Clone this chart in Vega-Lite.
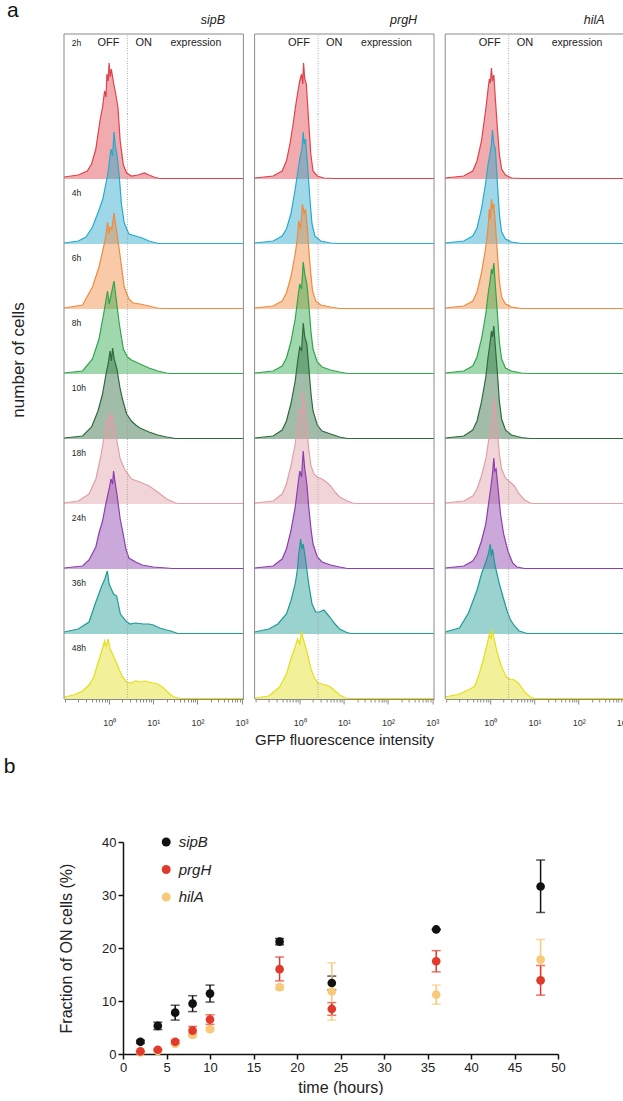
{
"$schema": "https://vega.github.io/schema/vega-lite/v6.json",
"padding": {"left": 3, "top": 0, "right": 0, "bottom": 0},
"config": {"font": "Liberation Sans", "view": {"stroke": null}, "axis": {"grid": false}, "legend": {"symbolOpacity": 1}},
"resolve": {"scale": {"color": "independent"}, "legend": {"color": "independent"}},
"datasets": {
"frac": [
{"gene":"sipB","t":2,"v":2.3,"lo":2.0,"hi":2.6},{"gene":"sipB","t":4,"v":5.3,"lo":4.6,"hi":6.0},{"gene":"sipB","t":6,"v":7.8,"lo":6.4,"hi":9.2},{"gene":"sipB","t":8,"v":9.5,"lo":8.0,"hi":11.0},{"gene":"sipB","t":10,"v":11.4,"lo":9.8,"hi":13.0},{"gene":"sipB","t":18,"v":21.2,"lo":20.6,"hi":21.8},{"gene":"sipB","t":24,"v":13.4,"lo":12.1,"hi":14.7},{"gene":"sipB","t":36,"v":23.5,"lo":23.5,"hi":23.5},{"gene":"sipB","t":48,"v":31.6,"lo":26.7,"hi":36.6},
{"gene":"hilA","t":2,"v":0.3,"lo":0.3,"hi":0.3},{"gene":"hilA","t":4,"v":0.6,"lo":0.6,"hi":0.6},{"gene":"hilA","t":6,"v":1.9,"lo":1.7,"hi":2.1},{"gene":"hilA","t":8,"v":3.6,"lo":3.2,"hi":4.0},{"gene":"hilA","t":10,"v":4.7,"lo":4.4,"hi":5.0},{"gene":"hilA","t":18,"v":12.6,"lo":12.1,"hi":13.1},{"gene":"hilA","t":24,"v":11.8,"lo":6.4,"hi":17.2},{"gene":"hilA","t":36,"v":11.2,"lo":9.4,"hi":13.0},{"gene":"hilA","t":48,"v":17.8,"lo":14.0,"hi":21.6},
{"gene":"prgH","t":2,"v":0.5,"lo":0.4,"hi":0.6},{"gene":"prgH","t":4,"v":0.8,"lo":0.7,"hi":0.9},{"gene":"prgH","t":6,"v":2.3,"lo":2.0,"hi":2.6},{"gene":"prgH","t":8,"v":4.4,"lo":3.6,"hi":5.2},{"gene":"prgH","t":10,"v":6.5,"lo":5.6,"hi":7.4},{"gene":"prgH","t":18,"v":16.0,"lo":13.8,"hi":18.3},{"gene":"prgH","t":24,"v":8.5,"lo":7.3,"hi":9.7},{"gene":"prgH","t":36,"v":17.5,"lo":15.5,"hi":19.5},{"gene":"prgH","t":48,"v":13.9,"lo":11.1,"hi":16.7}
],
"hist": [
{"g":"sipB","t":"2h","x":0.095,"c":2},{"g":"sipB","t":"2h","x":0.2,"c":4},{"g":"sipB","t":"2h","x":0.32,"c":8},{"g":"sipB","t":"2h","x":0.4,"c":15},{"g":"sipB","t":"2h","x":0.5,"c":30},{"g":"sipB","t":"2h","x":0.56,"c":45},{"g":"sipB","t":"2h","x":0.63,"c":60},{"g":"sipB","t":"2h","x":0.71,"c":72},{"g":"sipB","t":"2h","x":0.79,"c":88},{"g":"sipB","t":"2h","x":0.85,"c":82},{"g":"sipB","t":"2h","x":0.89,"c":105},{"g":"sipB","t":"2h","x":0.95,"c":98},{"g":"sipB","t":"2h","x":1,"c":116},{"g":"sipB","t":"2h","x":1.06,"c":102},{"g":"sipB","t":"2h","x":1.12,"c":110},{"g":"sipB","t":"2h","x":1.26,"c":96},{"g":"sipB","t":"2h","x":1.41,"c":85},{"g":"sipB","t":"2h","x":1.58,"c":72},{"g":"sipB","t":"2h","x":1.78,"c":38},{"g":"sipB","t":"2h","x":2.1,"c":14},{"g":"sipB","t":"2h","x":2.5,"c":6},{"g":"sipB","t":"2h","x":3.2,"c":3},{"g":"sipB","t":"2h","x":4.5,"c":4},{"g":"sipB","t":"2h","x":6.3,"c":6},{"g":"sipB","t":"2h","x":8,"c":4},{"g":"sipB","t":"2h","x":11,"c":1.5},{"g":"sipB","t":"2h","x":14,"c":0.5},{"g":"sipB","t":"2h","x":1100,"c":0.5},
{"g":"sipB","t":"4h","x":0.095,"c":1},{"g":"sipB","t":"4h","x":0.2,"c":3},{"g":"sipB","t":"4h","x":0.3,"c":7},{"g":"sipB","t":"4h","x":0.42,"c":17},{"g":"sipB","t":"4h","x":0.59,"c":34},{"g":"sipB","t":"4h","x":0.72,"c":45},{"g":"sipB","t":"4h","x":0.85,"c":61},{"g":"sipB","t":"4h","x":0.95,"c":72},{"g":"sipB","t":"4h","x":1,"c":80},{"g":"sipB","t":"4h","x":1.1,"c":95},{"g":"sipB","t":"4h","x":1.2,"c":88},{"g":"sipB","t":"4h","x":1.29,"c":112},{"g":"sipB","t":"4h","x":1.38,"c":98},{"g":"sipB","t":"4h","x":1.5,"c":90},{"g":"sipB","t":"4h","x":1.7,"c":67},{"g":"sipB","t":"4h","x":1.9,"c":40},{"g":"sipB","t":"4h","x":2.2,"c":21},{"g":"sipB","t":"4h","x":2.8,"c":10},{"g":"sipB","t":"4h","x":4,"c":8},{"g":"sipB","t":"4h","x":5.6,"c":6},{"g":"sipB","t":"4h","x":8,"c":3},{"g":"sipB","t":"4h","x":13,"c":0.5},{"g":"sipB","t":"4h","x":1100,"c":0.5},
{"g":"sipB","t":"6h","x":0.095,"c":1},{"g":"sipB","t":"6h","x":0.25,"c":4},{"g":"sipB","t":"6h","x":0.42,"c":22},{"g":"sipB","t":"6h","x":0.59,"c":42},{"g":"sipB","t":"6h","x":0.75,"c":62},{"g":"sipB","t":"6h","x":0.85,"c":75},{"g":"sipB","t":"6h","x":0.92,"c":87},{"g":"sipB","t":"6h","x":0.98,"c":75},{"g":"sipB","t":"6h","x":1.05,"c":82},{"g":"sipB","t":"6h","x":1.15,"c":80},{"g":"sipB","t":"6h","x":1.29,"c":96},{"g":"sipB","t":"6h","x":1.4,"c":85},{"g":"sipB","t":"6h","x":1.7,"c":59},{"g":"sipB","t":"6h","x":2.2,"c":22},{"g":"sipB","t":"6h","x":2.8,"c":10},{"g":"sipB","t":"6h","x":3.5,"c":6},{"g":"sipB","t":"6h","x":5,"c":5},{"g":"sipB","t":"6h","x":8,"c":3},{"g":"sipB","t":"6h","x":12,"c":1},{"g":"sipB","t":"6h","x":16,"c":0.5},{"g":"sipB","t":"6h","x":1100,"c":0.5},
{"g":"sipB","t":"8h","x":0.095,"c":1},{"g":"sipB","t":"8h","x":0.25,"c":3},{"g":"sipB","t":"8h","x":0.42,"c":15},{"g":"sipB","t":"8h","x":0.59,"c":35},{"g":"sipB","t":"8h","x":0.75,"c":60},{"g":"sipB","t":"8h","x":0.92,"c":83},{"g":"sipB","t":"8h","x":1,"c":70},{"g":"sipB","t":"8h","x":1.12,"c":80},{"g":"sipB","t":"8h","x":1.29,"c":93},{"g":"sipB","t":"8h","x":1.4,"c":80},{"g":"sipB","t":"8h","x":1.7,"c":50},{"g":"sipB","t":"8h","x":2.1,"c":25},{"g":"sipB","t":"8h","x":2.6,"c":17},{"g":"sipB","t":"8h","x":3.2,"c":14},{"g":"sipB","t":"8h","x":4,"c":12},{"g":"sipB","t":"8h","x":5,"c":10},{"g":"sipB","t":"8h","x":6.3,"c":8},{"g":"sipB","t":"8h","x":8,"c":6},{"g":"sipB","t":"8h","x":12.6,"c":3},{"g":"sipB","t":"8h","x":20,"c":1},{"g":"sipB","t":"8h","x":25,"c":0.5},{"g":"sipB","t":"8h","x":1100,"c":0.5},
{"g":"sipB","t":"10h","x":0.095,"c":1},{"g":"sipB","t":"10h","x":0.25,"c":3},{"g":"sipB","t":"10h","x":0.4,"c":12},{"g":"sipB","t":"10h","x":0.56,"c":28},{"g":"sipB","t":"10h","x":0.71,"c":45},{"g":"sipB","t":"10h","x":0.85,"c":65},{"g":"sipB","t":"10h","x":0.95,"c":75},{"g":"sipB","t":"10h","x":1.05,"c":88},{"g":"sipB","t":"10h","x":1.12,"c":78},{"g":"sipB","t":"10h","x":1.2,"c":91},{"g":"sipB","t":"10h","x":1.3,"c":80},{"g":"sipB","t":"10h","x":1.5,"c":70},{"g":"sipB","t":"10h","x":1.78,"c":50},{"g":"sipB","t":"10h","x":2,"c":40},{"g":"sipB","t":"10h","x":2.5,"c":25},{"g":"sipB","t":"10h","x":3.2,"c":18},{"g":"sipB","t":"10h","x":4,"c":14},{"g":"sipB","t":"10h","x":5,"c":11},{"g":"sipB","t":"10h","x":6.3,"c":9},{"g":"sipB","t":"10h","x":8,"c":7},{"g":"sipB","t":"10h","x":12.6,"c":4},{"g":"sipB","t":"10h","x":20,"c":2},{"g":"sipB","t":"10h","x":32,"c":0.5},{"g":"sipB","t":"10h","x":1100,"c":0.5},
{"g":"sipB","t":"18h","x":0.095,"c":1},{"g":"sipB","t":"18h","x":0.2,"c":3},{"g":"sipB","t":"18h","x":0.35,"c":10},{"g":"sipB","t":"18h","x":0.5,"c":25},{"g":"sipB","t":"18h","x":0.63,"c":45},{"g":"sipB","t":"18h","x":0.79,"c":70},{"g":"sipB","t":"18h","x":0.9,"c":85},{"g":"sipB","t":"18h","x":0.95,"c":76},{"g":"sipB","t":"18h","x":1,"c":92},{"g":"sipB","t":"18h","x":1.1,"c":85},{"g":"sipB","t":"18h","x":1.2,"c":88},{"g":"sipB","t":"18h","x":1.41,"c":70},{"g":"sipB","t":"18h","x":1.78,"c":45},{"g":"sipB","t":"18h","x":2.24,"c":35},{"g":"sipB","t":"18h","x":3.2,"c":25},{"g":"sipB","t":"18h","x":5,"c":22},{"g":"sipB","t":"18h","x":8,"c":18},{"g":"sipB","t":"18h","x":12.6,"c":12},{"g":"sipB","t":"18h","x":20,"c":5},{"g":"sipB","t":"18h","x":32,"c":1},{"g":"sipB","t":"18h","x":40,"c":0.5},{"g":"sipB","t":"18h","x":1100,"c":0.5},
{"g":"sipB","t":"24h","x":0.095,"c":1},{"g":"sipB","t":"24h","x":0.25,"c":3},{"g":"sipB","t":"24h","x":0.35,"c":9},{"g":"sipB","t":"24h","x":0.5,"c":22},{"g":"sipB","t":"24h","x":0.59,"c":36},{"g":"sipB","t":"24h","x":0.71,"c":48},{"g":"sipB","t":"24h","x":0.85,"c":66},{"g":"sipB","t":"24h","x":1,"c":80},{"g":"sipB","t":"24h","x":1.1,"c":90},{"g":"sipB","t":"24h","x":1.2,"c":85},{"g":"sipB","t":"24h","x":1.26,"c":98},{"g":"sipB","t":"24h","x":1.35,"c":88},{"g":"sipB","t":"24h","x":1.5,"c":75},{"g":"sipB","t":"24h","x":1.78,"c":50},{"g":"sipB","t":"24h","x":2,"c":39},{"g":"sipB","t":"24h","x":2.4,"c":20},{"g":"sipB","t":"24h","x":2.8,"c":11},{"g":"sipB","t":"24h","x":4,"c":7},{"g":"sipB","t":"24h","x":5.6,"c":4},{"g":"sipB","t":"24h","x":10,"c":2},{"g":"sipB","t":"24h","x":20,"c":1},{"g":"sipB","t":"24h","x":27,"c":0.5},{"g":"sipB","t":"24h","x":1100,"c":0.5},
{"g":"sipB","t":"36h","x":0.095,"c":2},{"g":"sipB","t":"36h","x":0.2,"c":5},{"g":"sipB","t":"36h","x":0.35,"c":12},{"g":"sipB","t":"36h","x":0.5,"c":32},{"g":"sipB","t":"36h","x":0.68,"c":48},{"g":"sipB","t":"36h","x":0.8,"c":55},{"g":"sipB","t":"36h","x":0.91,"c":63},{"g":"sipB","t":"36h","x":1,"c":50},{"g":"sipB","t":"36h","x":1.12,"c":45},{"g":"sipB","t":"36h","x":1.26,"c":40},{"g":"sipB","t":"36h","x":1.48,"c":38},{"g":"sipB","t":"36h","x":1.8,"c":20},{"g":"sipB","t":"36h","x":2.4,"c":13},{"g":"sipB","t":"36h","x":2.95,"c":10},{"g":"sipB","t":"36h","x":4,"c":11},{"g":"sipB","t":"36h","x":6,"c":10},{"g":"sipB","t":"36h","x":8,"c":10},{"g":"sipB","t":"36h","x":10,"c":9},{"g":"sipB","t":"36h","x":14,"c":6},{"g":"sipB","t":"36h","x":20,"c":4},{"g":"sipB","t":"36h","x":25,"c":3},{"g":"sipB","t":"36h","x":36,"c":0.5},{"g":"sipB","t":"36h","x":1100,"c":0.5},
{"g":"sipB","t":"48h","x":0.095,"c":2},{"g":"sipB","t":"48h","x":0.16,"c":4},{"g":"sipB","t":"48h","x":0.25,"c":8},{"g":"sipB","t":"48h","x":0.35,"c":14},{"g":"sipB","t":"48h","x":0.45,"c":22},{"g":"sipB","t":"48h","x":0.55,"c":35},{"g":"sipB","t":"48h","x":0.68,"c":48},{"g":"sipB","t":"48h","x":0.79,"c":58},{"g":"sipB","t":"48h","x":0.85,"c":52},{"g":"sipB","t":"48h","x":0.95,"c":60},{"g":"sipB","t":"48h","x":1.05,"c":50},{"g":"sipB","t":"48h","x":1.2,"c":45},{"g":"sipB","t":"48h","x":1.5,"c":35},{"g":"sipB","t":"48h","x":2,"c":22},{"g":"sipB","t":"48h","x":2.5,"c":17},{"g":"sipB","t":"48h","x":3.2,"c":16},{"g":"sipB","t":"48h","x":4,"c":18},{"g":"sipB","t":"48h","x":5,"c":17},{"g":"sipB","t":"48h","x":6.3,"c":18},{"g":"sipB","t":"48h","x":8,"c":17},{"g":"sipB","t":"48h","x":10,"c":16},{"g":"sipB","t":"48h","x":12.6,"c":15},{"g":"sipB","t":"48h","x":16,"c":12},{"g":"sipB","t":"48h","x":20,"c":8},{"g":"sipB","t":"48h","x":25,"c":4},{"g":"sipB","t":"48h","x":32,"c":1.5},{"g":"sipB","t":"48h","x":45,"c":0.5},{"g":"sipB","t":"48h","x":1100,"c":0.5},
{"g":"prgH","t":"2h","x":0.095,"c":1},{"g":"prgH","t":"2h","x":0.25,"c":3},{"g":"prgH","t":"2h","x":0.4,"c":8},{"g":"prgH","t":"2h","x":0.5,"c":18},{"g":"prgH","t":"2h","x":0.6,"c":35},{"g":"prgH","t":"2h","x":0.71,"c":55},{"g":"prgH","t":"2h","x":0.8,"c":72},{"g":"prgH","t":"2h","x":0.89,"c":85},{"g":"prgH","t":"2h","x":1,"c":98},{"g":"prgH","t":"2h","x":1.1,"c":105},{"g":"prgH","t":"2h","x":1.17,"c":95},{"g":"prgH","t":"2h","x":1.22,"c":116},{"g":"prgH","t":"2h","x":1.3,"c":100},{"g":"prgH","t":"2h","x":1.41,"c":95},{"g":"prgH","t":"2h","x":1.58,"c":60},{"g":"prgH","t":"2h","x":1.78,"c":25},{"g":"prgH","t":"2h","x":2,"c":8},{"g":"prgH","t":"2h","x":2.5,"c":3},{"g":"prgH","t":"2h","x":3.5,"c":1},{"g":"prgH","t":"2h","x":6,"c":0.5},{"g":"prgH","t":"2h","x":1100,"c":0.5},
{"g":"prgH","t":"4h","x":0.095,"c":1},{"g":"prgH","t":"4h","x":0.25,"c":3},{"g":"prgH","t":"4h","x":0.4,"c":8},{"g":"prgH","t":"4h","x":0.5,"c":15},{"g":"prgH","t":"4h","x":0.63,"c":30},{"g":"prgH","t":"4h","x":0.79,"c":55},{"g":"prgH","t":"4h","x":0.89,"c":70},{"g":"prgH","t":"4h","x":1,"c":85},{"g":"prgH","t":"4h","x":1.12,"c":95},{"g":"prgH","t":"4h","x":1.2,"c":112},{"g":"prgH","t":"4h","x":1.26,"c":100},{"g":"prgH","t":"4h","x":1.35,"c":105},{"g":"prgH","t":"4h","x":1.5,"c":80},{"g":"prgH","t":"4h","x":1.7,"c":45},{"g":"prgH","t":"4h","x":1.9,"c":20},{"g":"prgH","t":"4h","x":2.2,"c":8},{"g":"prgH","t":"4h","x":3,"c":3},{"g":"prgH","t":"4h","x":5,"c":1},{"g":"prgH","t":"4h","x":8,"c":0.5},{"g":"prgH","t":"4h","x":1100,"c":0.5},
{"g":"prgH","t":"6h","x":0.095,"c":1},{"g":"prgH","t":"6h","x":0.25,"c":3},{"g":"prgH","t":"6h","x":0.4,"c":8},{"g":"prgH","t":"6h","x":0.5,"c":16},{"g":"prgH","t":"6h","x":0.63,"c":32},{"g":"prgH","t":"6h","x":0.79,"c":55},{"g":"prgH","t":"6h","x":0.89,"c":72},{"g":"prgH","t":"6h","x":0.95,"c":88},{"g":"prgH","t":"6h","x":1.05,"c":80},{"g":"prgH","t":"6h","x":1.15,"c":105},{"g":"prgH","t":"6h","x":1.26,"c":95},{"g":"prgH","t":"6h","x":1.35,"c":100},{"g":"prgH","t":"6h","x":1.5,"c":78},{"g":"prgH","t":"6h","x":1.7,"c":45},{"g":"prgH","t":"6h","x":1.95,"c":18},{"g":"prgH","t":"6h","x":2.3,"c":8},{"g":"prgH","t":"6h","x":3,"c":4},{"g":"prgH","t":"6h","x":5,"c":2},{"g":"prgH","t":"6h","x":8,"c":0.5},{"g":"prgH","t":"6h","x":1100,"c":0.5},
{"g":"prgH","t":"8h","x":0.095,"c":1},{"g":"prgH","t":"8h","x":0.25,"c":3},{"g":"prgH","t":"8h","x":0.4,"c":8},{"g":"prgH","t":"8h","x":0.5,"c":16},{"g":"prgH","t":"8h","x":0.63,"c":32},{"g":"prgH","t":"8h","x":0.79,"c":55},{"g":"prgH","t":"8h","x":0.9,"c":75},{"g":"prgH","t":"8h","x":1,"c":90},{"g":"prgH","t":"8h","x":1.1,"c":85},{"g":"prgH","t":"8h","x":1.2,"c":112},{"g":"prgH","t":"8h","x":1.3,"c":100},{"g":"prgH","t":"8h","x":1.45,"c":90},{"g":"prgH","t":"8h","x":1.6,"c":70},{"g":"prgH","t":"8h","x":1.8,"c":42},{"g":"prgH","t":"8h","x":2,"c":25},{"g":"prgH","t":"8h","x":2.5,"c":12},{"g":"prgH","t":"8h","x":3.2,"c":7},{"g":"prgH","t":"8h","x":5,"c":4},{"g":"prgH","t":"8h","x":8,"c":2},{"g":"prgH","t":"8h","x":12,"c":0.5},{"g":"prgH","t":"8h","x":1100,"c":0.5},
{"g":"prgH","t":"10h","x":0.095,"c":1},{"g":"prgH","t":"10h","x":0.25,"c":3},{"g":"prgH","t":"10h","x":0.4,"c":9},{"g":"prgH","t":"10h","x":0.5,"c":18},{"g":"prgH","t":"10h","x":0.63,"c":35},{"g":"prgH","t":"10h","x":0.79,"c":58},{"g":"prgH","t":"10h","x":0.9,"c":78},{"g":"prgH","t":"10h","x":1,"c":92},{"g":"prgH","t":"10h","x":1.1,"c":88},{"g":"prgH","t":"10h","x":1.2,"c":116},{"g":"prgH","t":"10h","x":1.3,"c":102},{"g":"prgH","t":"10h","x":1.45,"c":95},{"g":"prgH","t":"10h","x":1.6,"c":72},{"g":"prgH","t":"10h","x":1.8,"c":45},{"g":"prgH","t":"10h","x":2,"c":28},{"g":"prgH","t":"10h","x":2.5,"c":14},{"g":"prgH","t":"10h","x":3.2,"c":8},{"g":"prgH","t":"10h","x":5,"c":5},{"g":"prgH","t":"10h","x":8,"c":2},{"g":"prgH","t":"10h","x":12,"c":0.5},{"g":"prgH","t":"10h","x":1100,"c":0.5},
{"g":"prgH","t":"18h","x":0.095,"c":1},{"g":"prgH","t":"18h","x":0.25,"c":3},{"g":"prgH","t":"18h","x":0.4,"c":10},{"g":"prgH","t":"18h","x":0.5,"c":20},{"g":"prgH","t":"18h","x":0.63,"c":38},{"g":"prgH","t":"18h","x":0.79,"c":60},{"g":"prgH","t":"18h","x":0.9,"c":80},{"g":"prgH","t":"18h","x":1,"c":95},{"g":"prgH","t":"18h","x":1.1,"c":90},{"g":"prgH","t":"18h","x":1.2,"c":112},{"g":"prgH","t":"18h","x":1.3,"c":95},{"g":"prgH","t":"18h","x":1.45,"c":75},{"g":"prgH","t":"18h","x":1.6,"c":55},{"g":"prgH","t":"18h","x":1.8,"c":38},{"g":"prgH","t":"18h","x":2.1,"c":30},{"g":"prgH","t":"18h","x":2.5,"c":27},{"g":"prgH","t":"18h","x":3.2,"c":25},{"g":"prgH","t":"18h","x":4,"c":22},{"g":"prgH","t":"18h","x":5,"c":18},{"g":"prgH","t":"18h","x":6.3,"c":12},{"g":"prgH","t":"18h","x":8,"c":7},{"g":"prgH","t":"18h","x":12,"c":3},{"g":"prgH","t":"18h","x":16,"c":1},{"g":"prgH","t":"18h","x":20,"c":0.5},{"g":"prgH","t":"18h","x":1100,"c":0.5},
{"g":"prgH","t":"24h","x":0.095,"c":1},{"g":"prgH","t":"24h","x":0.25,"c":3},{"g":"prgH","t":"24h","x":0.4,"c":10},{"g":"prgH","t":"24h","x":0.5,"c":20},{"g":"prgH","t":"24h","x":0.63,"c":38},{"g":"prgH","t":"24h","x":0.79,"c":62},{"g":"prgH","t":"24h","x":0.9,"c":82},{"g":"prgH","t":"24h","x":1,"c":98},{"g":"prgH","t":"24h","x":1.1,"c":92},{"g":"prgH","t":"24h","x":1.2,"c":118},{"g":"prgH","t":"24h","x":1.3,"c":100},{"g":"prgH","t":"24h","x":1.45,"c":85},{"g":"prgH","t":"24h","x":1.6,"c":62},{"g":"prgH","t":"24h","x":1.8,"c":40},{"g":"prgH","t":"24h","x":2,"c":25},{"g":"prgH","t":"24h","x":2.5,"c":12},{"g":"prgH","t":"24h","x":3.2,"c":7},{"g":"prgH","t":"24h","x":5,"c":4},{"g":"prgH","t":"24h","x":8,"c":2},{"g":"prgH","t":"24h","x":12,"c":0.5},{"g":"prgH","t":"24h","x":1100,"c":0.5},
{"g":"prgH","t":"36h","x":0.095,"c":2},{"g":"prgH","t":"36h","x":0.2,"c":5},{"g":"prgH","t":"36h","x":0.32,"c":10},{"g":"prgH","t":"36h","x":0.5,"c":20},{"g":"prgH","t":"36h","x":0.63,"c":33},{"g":"prgH","t":"36h","x":0.79,"c":50},{"g":"prgH","t":"36h","x":0.89,"c":65},{"g":"prgH","t":"36h","x":0.95,"c":80},{"g":"prgH","t":"36h","x":1.05,"c":95},{"g":"prgH","t":"36h","x":1.12,"c":85},{"g":"prgH","t":"36h","x":1.2,"c":90},{"g":"prgH","t":"36h","x":1.35,"c":75},{"g":"prgH","t":"36h","x":1.6,"c":50},{"g":"prgH","t":"36h","x":1.9,"c":30},{"g":"prgH","t":"36h","x":2.3,"c":22},{"g":"prgH","t":"36h","x":2.8,"c":22},{"g":"prgH","t":"36h","x":3.5,"c":24},{"g":"prgH","t":"36h","x":4.2,"c":20},{"g":"prgH","t":"36h","x":5,"c":16},{"g":"prgH","t":"36h","x":6.3,"c":10},{"g":"prgH","t":"36h","x":8,"c":5},{"g":"prgH","t":"36h","x":11,"c":2},{"g":"prgH","t":"36h","x":14,"c":0.5},{"g":"prgH","t":"36h","x":1100,"c":0.5},
{"g":"prgH","t":"48h","x":0.095,"c":1},{"g":"prgH","t":"48h","x":0.2,"c":3},{"g":"prgH","t":"48h","x":0.35,"c":12},{"g":"prgH","t":"48h","x":0.5,"c":25},{"g":"prgH","t":"48h","x":0.63,"c":40},{"g":"prgH","t":"48h","x":0.79,"c":52},{"g":"prgH","t":"48h","x":0.89,"c":60},{"g":"prgH","t":"48h","x":1,"c":55},{"g":"prgH","t":"48h","x":1.1,"c":68},{"g":"prgH","t":"48h","x":1.2,"c":60},{"g":"prgH","t":"48h","x":1.3,"c":55},{"g":"prgH","t":"48h","x":1.5,"c":45},{"g":"prgH","t":"48h","x":1.8,"c":30},{"g":"prgH","t":"48h","x":2.2,"c":20},{"g":"prgH","t":"48h","x":2.6,"c":16},{"g":"prgH","t":"48h","x":3.2,"c":15},{"g":"prgH","t":"48h","x":4,"c":14},{"g":"prgH","t":"48h","x":5,"c":12},{"g":"prgH","t":"48h","x":6.3,"c":8},{"g":"prgH","t":"48h","x":8,"c":4},{"g":"prgH","t":"48h","x":11,"c":1},{"g":"prgH","t":"48h","x":14,"c":0.5},{"g":"prgH","t":"48h","x":1100,"c":0.5},
{"g":"hilA","t":"2h","x":0.095,"c":1},{"g":"hilA","t":"2h","x":0.25,"c":3},{"g":"hilA","t":"2h","x":0.4,"c":8},{"g":"hilA","t":"2h","x":0.5,"c":18},{"g":"hilA","t":"2h","x":0.63,"c":38},{"g":"hilA","t":"2h","x":0.71,"c":55},{"g":"hilA","t":"2h","x":0.79,"c":70},{"g":"hilA","t":"2h","x":0.89,"c":90},{"g":"hilA","t":"2h","x":0.95,"c":100},{"g":"hilA","t":"2h","x":1,"c":96},{"g":"hilA","t":"2h","x":1.06,"c":111},{"g":"hilA","t":"2h","x":1.12,"c":98},{"g":"hilA","t":"2h","x":1.2,"c":104},{"g":"hilA","t":"2h","x":1.3,"c":80},{"g":"hilA","t":"2h","x":1.45,"c":50},{"g":"hilA","t":"2h","x":1.6,"c":25},{"g":"hilA","t":"2h","x":1.8,"c":10},{"g":"hilA","t":"2h","x":2.2,"c":4},{"g":"hilA","t":"2h","x":3,"c":1},{"g":"hilA","t":"2h","x":5,"c":0.5},{"g":"hilA","t":"2h","x":1100,"c":0.5},
{"g":"hilA","t":"4h","x":0.095,"c":1},{"g":"hilA","t":"4h","x":0.25,"c":3},{"g":"hilA","t":"4h","x":0.4,"c":8},{"g":"hilA","t":"4h","x":0.5,"c":16},{"g":"hilA","t":"4h","x":0.63,"c":35},{"g":"hilA","t":"4h","x":0.79,"c":62},{"g":"hilA","t":"4h","x":0.89,"c":80},{"g":"hilA","t":"4h","x":1,"c":92},{"g":"hilA","t":"4h","x":1.06,"c":100},{"g":"hilA","t":"4h","x":1.12,"c":114},{"g":"hilA","t":"4h","x":1.2,"c":100},{"g":"hilA","t":"4h","x":1.3,"c":95},{"g":"hilA","t":"4h","x":1.45,"c":60},{"g":"hilA","t":"4h","x":1.6,"c":30},{"g":"hilA","t":"4h","x":1.8,"c":12},{"g":"hilA","t":"4h","x":2.2,"c":5},{"g":"hilA","t":"4h","x":3,"c":2},{"g":"hilA","t":"4h","x":5,"c":0.5},{"g":"hilA","t":"4h","x":1100,"c":0.5},
{"g":"hilA","t":"6h","x":0.095,"c":1},{"g":"hilA","t":"6h","x":0.25,"c":3},{"g":"hilA","t":"6h","x":0.4,"c":8},{"g":"hilA","t":"6h","x":0.5,"c":17},{"g":"hilA","t":"6h","x":0.63,"c":36},{"g":"hilA","t":"6h","x":0.79,"c":62},{"g":"hilA","t":"6h","x":0.89,"c":82},{"g":"hilA","t":"6h","x":0.95,"c":100},{"g":"hilA","t":"6h","x":1,"c":90},{"g":"hilA","t":"6h","x":1.06,"c":110},{"g":"hilA","t":"6h","x":1.12,"c":100},{"g":"hilA","t":"6h","x":1.2,"c":105},{"g":"hilA","t":"6h","x":1.3,"c":85},{"g":"hilA","t":"6h","x":1.45,"c":55},{"g":"hilA","t":"6h","x":1.6,"c":28},{"g":"hilA","t":"6h","x":1.8,"c":12},{"g":"hilA","t":"6h","x":2.2,"c":5},{"g":"hilA","t":"6h","x":3,"c":2},{"g":"hilA","t":"6h","x":5,"c":0.5},{"g":"hilA","t":"6h","x":1100,"c":0.5},
{"g":"hilA","t":"8h","x":0.095,"c":1},{"g":"hilA","t":"8h","x":0.25,"c":3},{"g":"hilA","t":"8h","x":0.4,"c":8},{"g":"hilA","t":"8h","x":0.5,"c":17},{"g":"hilA","t":"8h","x":0.63,"c":35},{"g":"hilA","t":"8h","x":0.79,"c":60},{"g":"hilA","t":"8h","x":0.89,"c":80},{"g":"hilA","t":"8h","x":1,"c":95},{"g":"hilA","t":"8h","x":1.06,"c":105},{"g":"hilA","t":"8h","x":1.12,"c":100},{"g":"hilA","t":"8h","x":1.2,"c":111},{"g":"hilA","t":"8h","x":1.3,"c":88},{"g":"hilA","t":"8h","x":1.45,"c":60},{"g":"hilA","t":"8h","x":1.6,"c":32},{"g":"hilA","t":"8h","x":1.8,"c":15},{"g":"hilA","t":"8h","x":2.2,"c":6},{"g":"hilA","t":"8h","x":3,"c":3},{"g":"hilA","t":"8h","x":5,"c":1},{"g":"hilA","t":"8h","x":8,"c":0.5},{"g":"hilA","t":"8h","x":1100,"c":0.5},
{"g":"hilA","t":"10h","x":0.095,"c":1},{"g":"hilA","t":"10h","x":0.25,"c":3},{"g":"hilA","t":"10h","x":0.4,"c":9},{"g":"hilA","t":"10h","x":0.5,"c":18},{"g":"hilA","t":"10h","x":0.63,"c":37},{"g":"hilA","t":"10h","x":0.79,"c":62},{"g":"hilA","t":"10h","x":0.89,"c":82},{"g":"hilA","t":"10h","x":1,"c":98},{"g":"hilA","t":"10h","x":1.06,"c":108},{"g":"hilA","t":"10h","x":1.12,"c":102},{"g":"hilA","t":"10h","x":1.2,"c":113},{"g":"hilA","t":"10h","x":1.3,"c":92},{"g":"hilA","t":"10h","x":1.45,"c":65},{"g":"hilA","t":"10h","x":1.6,"c":38},{"g":"hilA","t":"10h","x":1.8,"c":20},{"g":"hilA","t":"10h","x":2.2,"c":9},{"g":"hilA","t":"10h","x":3,"c":4},{"g":"hilA","t":"10h","x":5,"c":1.5},{"g":"hilA","t":"10h","x":8,"c":0.5},{"g":"hilA","t":"10h","x":1100,"c":0.5},
{"g":"hilA","t":"18h","x":0.095,"c":1},{"g":"hilA","t":"18h","x":0.25,"c":3},{"g":"hilA","t":"18h","x":0.4,"c":8},{"g":"hilA","t":"18h","x":0.5,"c":15},{"g":"hilA","t":"18h","x":0.63,"c":28},{"g":"hilA","t":"18h","x":0.79,"c":45},{"g":"hilA","t":"18h","x":0.89,"c":60},{"g":"hilA","t":"18h","x":1,"c":75},{"g":"hilA","t":"18h","x":1.12,"c":90},{"g":"hilA","t":"18h","x":1.2,"c":107},{"g":"hilA","t":"18h","x":1.3,"c":95},{"g":"hilA","t":"18h","x":1.45,"c":72},{"g":"hilA","t":"18h","x":1.6,"c":50},{"g":"hilA","t":"18h","x":1.8,"c":35},{"g":"hilA","t":"18h","x":2.2,"c":26},{"g":"hilA","t":"18h","x":2.8,"c":22},{"g":"hilA","t":"18h","x":3.5,"c":18},{"g":"hilA","t":"18h","x":4.5,"c":10},{"g":"hilA","t":"18h","x":6,"c":4},{"g":"hilA","t":"18h","x":8,"c":1},{"g":"hilA","t":"18h","x":10,"c":0.5},{"g":"hilA","t":"18h","x":1100,"c":0.5},
{"g":"hilA","t":"24h","x":0.095,"c":1},{"g":"hilA","t":"24h","x":0.25,"c":3},{"g":"hilA","t":"24h","x":0.4,"c":8},{"g":"hilA","t":"24h","x":0.5,"c":15},{"g":"hilA","t":"24h","x":0.63,"c":28},{"g":"hilA","t":"24h","x":0.79,"c":45},{"g":"hilA","t":"24h","x":0.89,"c":62},{"g":"hilA","t":"24h","x":1,"c":78},{"g":"hilA","t":"24h","x":1.12,"c":95},{"g":"hilA","t":"24h","x":1.2,"c":111},{"g":"hilA","t":"24h","x":1.26,"c":98},{"g":"hilA","t":"24h","x":1.35,"c":100},{"g":"hilA","t":"24h","x":1.5,"c":80},{"g":"hilA","t":"24h","x":1.7,"c":55},{"g":"hilA","t":"24h","x":2,"c":35},{"g":"hilA","t":"24h","x":2.5,"c":18},{"g":"hilA","t":"24h","x":3.2,"c":6},{"g":"hilA","t":"24h","x":4,"c":2},{"g":"hilA","t":"24h","x":6,"c":0.5},{"g":"hilA","t":"24h","x":1100,"c":0.5},
{"g":"hilA","t":"36h","x":0.095,"c":2},{"g":"hilA","t":"36h","x":0.2,"c":6},{"g":"hilA","t":"36h","x":0.32,"c":21},{"g":"hilA","t":"36h","x":0.5,"c":44},{"g":"hilA","t":"36h","x":0.63,"c":60},{"g":"hilA","t":"36h","x":0.79,"c":72},{"g":"hilA","t":"36h","x":0.9,"c":80},{"g":"hilA","t":"36h","x":1,"c":90},{"g":"hilA","t":"36h","x":1.05,"c":78},{"g":"hilA","t":"36h","x":1.12,"c":85},{"g":"hilA","t":"36h","x":1.26,"c":70},{"g":"hilA","t":"36h","x":1.58,"c":51},{"g":"hilA","t":"36h","x":2,"c":35},{"g":"hilA","t":"36h","x":2.4,"c":23},{"g":"hilA","t":"36h","x":2.8,"c":15},{"g":"hilA","t":"36h","x":3.5,"c":8},{"g":"hilA","t":"36h","x":4.5,"c":3},{"g":"hilA","t":"36h","x":6.8,"c":0.5},{"g":"hilA","t":"36h","x":1100,"c":0.5},
{"g":"hilA","t":"48h","x":0.095,"c":2},{"g":"hilA","t":"48h","x":0.2,"c":5},{"g":"hilA","t":"48h","x":0.35,"c":10},{"g":"hilA","t":"48h","x":0.45,"c":13},{"g":"hilA","t":"48h","x":0.56,"c":25},{"g":"hilA","t":"48h","x":0.7,"c":40},{"g":"hilA","t":"48h","x":0.85,"c":55},{"g":"hilA","t":"48h","x":0.95,"c":65},{"g":"hilA","t":"48h","x":1.05,"c":60},{"g":"hilA","t":"48h","x":1.1,"c":70},{"g":"hilA","t":"48h","x":1.2,"c":62},{"g":"hilA","t":"48h","x":1.4,"c":48},{"g":"hilA","t":"48h","x":1.8,"c":32},{"g":"hilA","t":"48h","x":2.3,"c":22},{"g":"hilA","t":"48h","x":2.8,"c":20},{"g":"hilA","t":"48h","x":3.5,"c":19},{"g":"hilA","t":"48h","x":4.5,"c":15},{"g":"hilA","t":"48h","x":6,"c":7},{"g":"hilA","t":"48h","x":8,"c":2},{"g":"hilA","t":"48h","x":10,"c":0.5},{"g":"hilA","t":"48h","x":1100,"c":0.5}
]
},
"spacing": 7,
"vconcat": [
{
"data": {"name": "hist"},
"bounds": "flush",
"spacing": {"row": 0, "column": 10.6},
"facet": {
"row": {"field": "t", "type": "nominal", "sort": ["2h","4h","6h","8h","10h","18h","24h","36h","48h"], "title": null, "header": {"labels": false}},
"column": {"field": "g", "type": "nominal", "sort": ["sipB","prgH","hilA"], "title": null, "header": {"labels": false}}
},
"spec": {
"width": 179.4, "height": 65,
"layer": [
{
"mark": {"type": "area", "fillOpacity": 0.45, "line": {"strokeWidth": 1.2}},
"encoding": {
"x": {"field": "x", "type": "quantitative", "scale": {"type": "log", "domain": [0.095, 1100], "nice": false},
 "axis": {"title": null, "values": [0.1,0.2,0.3,0.4,0.5,0.6,0.7,0.8,0.9,1,2,3,4,5,6,7,8,9,10,20,30,40,50,60,70,80,90,100,200,300,400,500,600,700,800,900,1000],
  "labelExpr": "datum.value == 1 ? '10⁰' : datum.value == 10 ? '10¹' : datum.value == 100 ? '10²' : datum.value == 1000 ? '10³' : ''",
  "tickSize": {"condition": {"test": "indexof([1,10,100,1000], datum.value) >= 0", "value": 5}, "value": 3},
  "domainColor": "#8a8a8a", "tickColor": "#8a8a8a", "labelFontSize": 9, "labelColor": "#333", "labelPadding": 14, "labelFlush": false, "labelOverlap": false, "labelBound": false, "labelDx": -4}},
"y": {"field": "c", "type": "quantitative", "stack": null, "scale": {"domain": [0, 65], "nice": false}, "axis": null},
"color": {"field": "t", "type": "nominal", "scale": {"domain": ["2h","4h","6h","8h","10h","18h","24h","36h","48h"], "range": ["#e0424b","#29a9cc","#f08a3c","#2ea64a","#2e6b3d","#dfa0a6","#8a3fae","#1e9b94","#e3df1d"]}, "legend": null}
}
},
{
"transform": [{"aggregate": [{"op": "count", "as": "n"}], "groupby": ["g", "t"]}],
"layer": [
{"mark": {"type": "rule", "color": "#8a8a8a", "strokeWidth": 1}, "encoding": {"x": {"datum": 0.095}}},
{"mark": {"type": "rule", "color": "#8a8a8a", "strokeWidth": 1}, "encoding": {"x": {"datum": 1100}}},
{"mark": {"type": "rule", "color": "#9a9a9a", "strokeWidth": 0.8, "strokeDash": [1, 1.5]}, "encoding": {"x": {"datum": 2.6}}},
{"transform": [{"filter": "datum.t == '2h'"}],
 "layer": [
 {"mark": {"type": "rule", "color": "#8a8a8a", "strokeWidth": 1}, "encoding": {"x": {"datum": 0.095}, "y": {"datum": 65, "axis": null}, "y2": {"datum": 145}}},
 {"mark": {"type": "rule", "color": "#8a8a8a", "strokeWidth": 1}, "encoding": {"x": {"datum": 1100}, "y": {"datum": 65, "axis": null}, "y2": {"datum": 145}}},
 {"mark": {"type": "rule", "color": "#9a9a9a", "strokeWidth": 0.8, "strokeDash": [1, 1.5]}, "encoding": {"x": {"datum": 2.6}, "y": {"datum": 65, "axis": null}, "y2": {"datum": 145}}},
 {"mark": {"type": "rule", "color": "#8a8a8a", "strokeWidth": 1}, "encoding": {"y": {"datum": 145, "axis": null}}},
 {"mark": {"type": "text", "text": "OFF", "align": "right", "baseline": "middle", "dx": -8, "fontSize": 11, "color": "#222"}, "encoding": {"x": {"datum": 2.6}, "y": {"datum": 136, "axis": null}}},
 {"mark": {"type": "text", "text": "ON", "align": "left", "baseline": "middle", "dx": 8, "fontSize": 11, "color": "#222"}, "encoding": {"x": {"datum": 2.6}, "y": {"datum": 136, "axis": null}}},
 {"mark": {"type": "text", "text": "expression", "align": "left", "baseline": "middle", "dx": 43, "fontSize": 10.5, "color": "#222"}, "encoding": {"x": {"datum": 2.6}, "y": {"datum": 136, "axis": null}}},
 {"mark": {"type": "text", "align": "center", "baseline": "middle", "fontSize": 12.5, "fontStyle": "italic", "color": "#222"}, "encoding": {"x": {"datum": 225}, "y": {"datum": 159, "axis": null}, "text": {"field": "g"}}},
 {"transform": [{"filter": "datum.g == 'sipB'"}], "mark": {"type": "text", "align": "left", "baseline": "middle", "fontSize": 8.5, "color": "#222"}, "encoding": {"x": {"datum": 0.143}, "y": {"datum": 136, "axis": null}, "text": {"field": "t"}}},
 {"transform": [{"filter": "datum.g == 'sipB'"}], "mark": {"type": "text", "text": "a", "align": "left", "baseline": "top", "fontSize": 21, "color": "#111"}, "encoding": {"x": {"datum": 0.00485}, "y": {"datum": 179, "axis": null}}}
 ]
},
{"transform": [{"filter": "datum.g == 'sipB' && datum.t != '2h'"}], "mark": {"type": "text", "align": "left", "baseline": "middle", "fontSize": 8.5, "color": "#222"}, "encoding": {"x": {"datum": 0.143}, "y": {"datum": 51, "axis": null}, "text": {"field": "t"}}},
{"transform": [{"filter": "datum.g == 'sipB' && datum.t == '8h'"}], "mark": {"type": "text", "text": "number of cells", "angle": 270, "align": "center", "baseline": "middle", "fontSize": 17, "color": "#222"}, "encoding": {"x": {"datum": 0.00906}, "y": {"datum": 14, "axis": null}}},
{"transform": [{"filter": "datum.g == 'prgH' && datum.t == '48h'"}], "mark": {"type": "text", "text": "GFP fluorescence intensity", "align": "center", "baseline": "middle", "fontSize": 15, "color": "#222"}, "encoding": {"x": {"datum": 10.3}, "y": {"datum": -41, "axis": null}}}
]
}
]
}
},
{
"bounds": "flush",
"spacing": 58,
"hconcat": [
{"width": 1, "height": 212, "data": {"values": []}, "mark": "point"},
{
"width": 435, "height": 212,
"layer": [
{"data": {"name": "frac"},
 "mark": {"type": "errorbar", "ticks": {"size": 9}, "thickness": 1.5},
 "encoding": {
 "x": {"field": "t", "type": "quantitative", "scale": {"domain": [0, 50], "nice": false}, "title": "time (hours)"},
 "y": {"field": "lo", "type": "quantitative", "scale": {"domain": [0, 40], "nice": false}, "title": "Fraction of ON cells (%)"},
 "y2": {"field": "hi"},
 "color": {"field": "gene", "type": "nominal", "scale": {"domain": ["sipB","prgH","hilA"], "range": ["#111111","#e03a2c","#f7c978"]}}
 }},
{"data": {"name": "frac"},
 "mark": {"type": "circle", "size": 75, "opacity": 1},
 "encoding": {
 "x": {"field": "t", "type": "quantitative", "title": "time (hours)", "axis": {"values": [0,5,10,15,20,25,30,35,40,45,50], "titleFontSize": 16, "titleFontWeight": "normal", "titleColor": "#222", "labelFontSize": 13, "labelColor": "#222", "domainColor": "#111", "domainWidth": 1.5, "tickColor": "#111", "tickWidth": 1.5, "tickSize": 5, "labelPadding": 2, "titlePadding": 5, "labelFlush": false}},
 "y": {"field": "v", "type": "quantitative", "title": "Fraction of ON cells (%)", "axis": {"values": [0,10,20,30,40], "titleFontSize": 16, "titleFontWeight": "normal", "titleColor": "#222", "labelFontSize": 13, "labelColor": "#222", "domainColor": "#111", "domainWidth": 1.5, "tickColor": "#111", "tickWidth": 1.5, "tickSize": 5, "labelPadding": 2, "titlePadding": 27}},
 "color": {"field": "gene", "type": "nominal", "legend": {"orient": "none", "legendX": 94.7, "legendY": -7.5, "title": null, "labelFontStyle": "italic", "labelFontSize": 15, "labelColor": "#222", "symbolSize": 80, "symbolOpacity": 1, "symbolStrokeWidth": 0, "rowPadding": 11.5, "labelOffset": 5, "symbolType": "circle"}}
 }},
{"data": {"values": [{"lab": "b"}]},
 "mark": {"type": "text", "align": "left", "baseline": "top", "fontSize": 21, "color": "#111"},
 "encoding": {"x": {"datum": -13.71, "title": "time (hours)"}, "y": {"datum": 56.3, "title": "Fraction of ON cells (%)"}, "text": {"field": "lab"}}}
]
}
]
}
]
}
